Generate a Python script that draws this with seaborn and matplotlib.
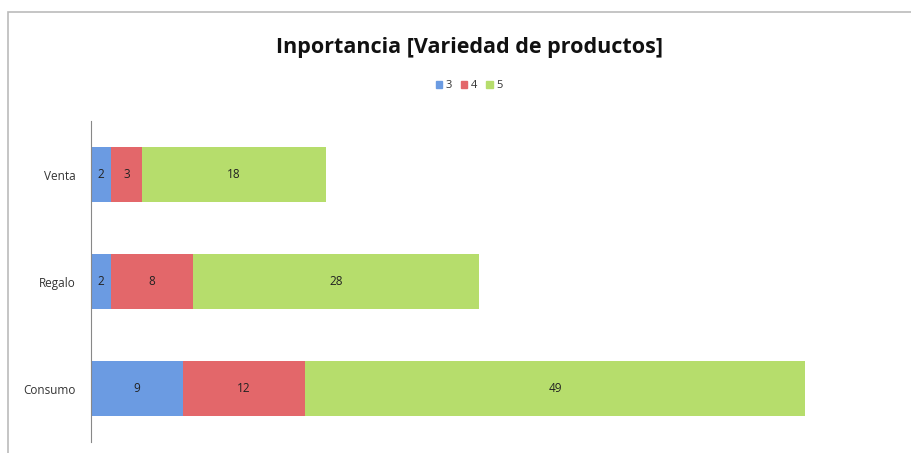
import matplotlib
matplotlib.use("Agg")
import matplotlib.pyplot as plt
import seaborn as sns
import pandas as pd
import numpy as np
from matplotlib.patches import Rectangle

categories = ["Venta", "Regalo", "Consumo"]
series_names = ["3", "4", "5"]
vals_3 = [2, 2, 9]
vals_4 = [3, 8, 12]
vals_5 = [18, 28, 49]
colors = ["#6b9be2", "#e3676a", "#b6dd6c"]
title = "Inportancia [Variedad de productos]"

sns.set_theme(style="white")
plt.rcParams["font.family"] = ["Open Sans", "DejaVu Sans"]

fig = plt.figure(figsize=(9.11, 4.53), dpi=100)
W, H = 911, 453
ax = fig.add_axes([91 / W, (H - 442) / H, (897 - 91) / W, (442 - 121) / H])

df = pd.DataFrame({"cat": categories, "3": vals_3, "4": vals_4, "5": vals_5})
df["c3"] = df["3"]
df["c4"] = df["3"] + df["4"]
df["c5"] = df["c4"] + df["5"]

# Draw cumulative layers (largest first) for stacking
for col, color in zip(["c5", "c4", "c3"], colors[::-1]):
    sns.barplot(data=df, y="cat", x=col, orient="h", color=color, width=0.51,
                saturation=1, ax=ax, order=categories, linewidth=0)

# Segment labels
starts = [np.zeros(3), np.array(df["c3"]), np.array(df["c4"])]
for s, series in zip(starts, [vals_3, vals_4, vals_5]):
    for i, v in enumerate(series):
        ax.text(s[i] + v / 2, i, str(v), ha="center", va="center", fontsize=8.5,
                color="#222222")

ax.set_xlim(0, 79)
ax.set_ylim(2.5, -0.5)
ax.set_xlabel("")
ax.set_ylabel("")
ax.set_xticks([])
for sp in ["top", "right", "bottom"]:
    ax.spines[sp].set_visible(False)
ax.spines["left"].set_color("#888888")
ax.spines["left"].set_linewidth(0.8)
ax.tick_params(axis="y", length=0, pad=11, labelsize=8.5, labelcolor="#333333")

fig.text(469 / W, 1 - 47 / H, title, ha="center", va="center", fontsize=15.5,
         fontweight="bold", color="#111111")

handles = [Rectangle((0, 0), 1, 1, color=c) for c in colors]
fig.legend(handles, series_names, loc="center", bbox_to_anchor=(469 / W, 1 - 86 / H),
           ncol=3, frameon=False, fontsize=8, handlelength=0.6, handleheight=0.6,
           handletextpad=0.3, columnspacing=0.8, labelcolor="#333333")

# Figure border
border = Rectangle((8 / W, -0.1), 1.2, 1 - 12 / H + 0.1, transform=fig.transFigure,
                   fill=False, edgecolor="#bbbbbb", linewidth=1.2)
fig.patches.append(border)

fig.savefig("out.png", dpi=100)
